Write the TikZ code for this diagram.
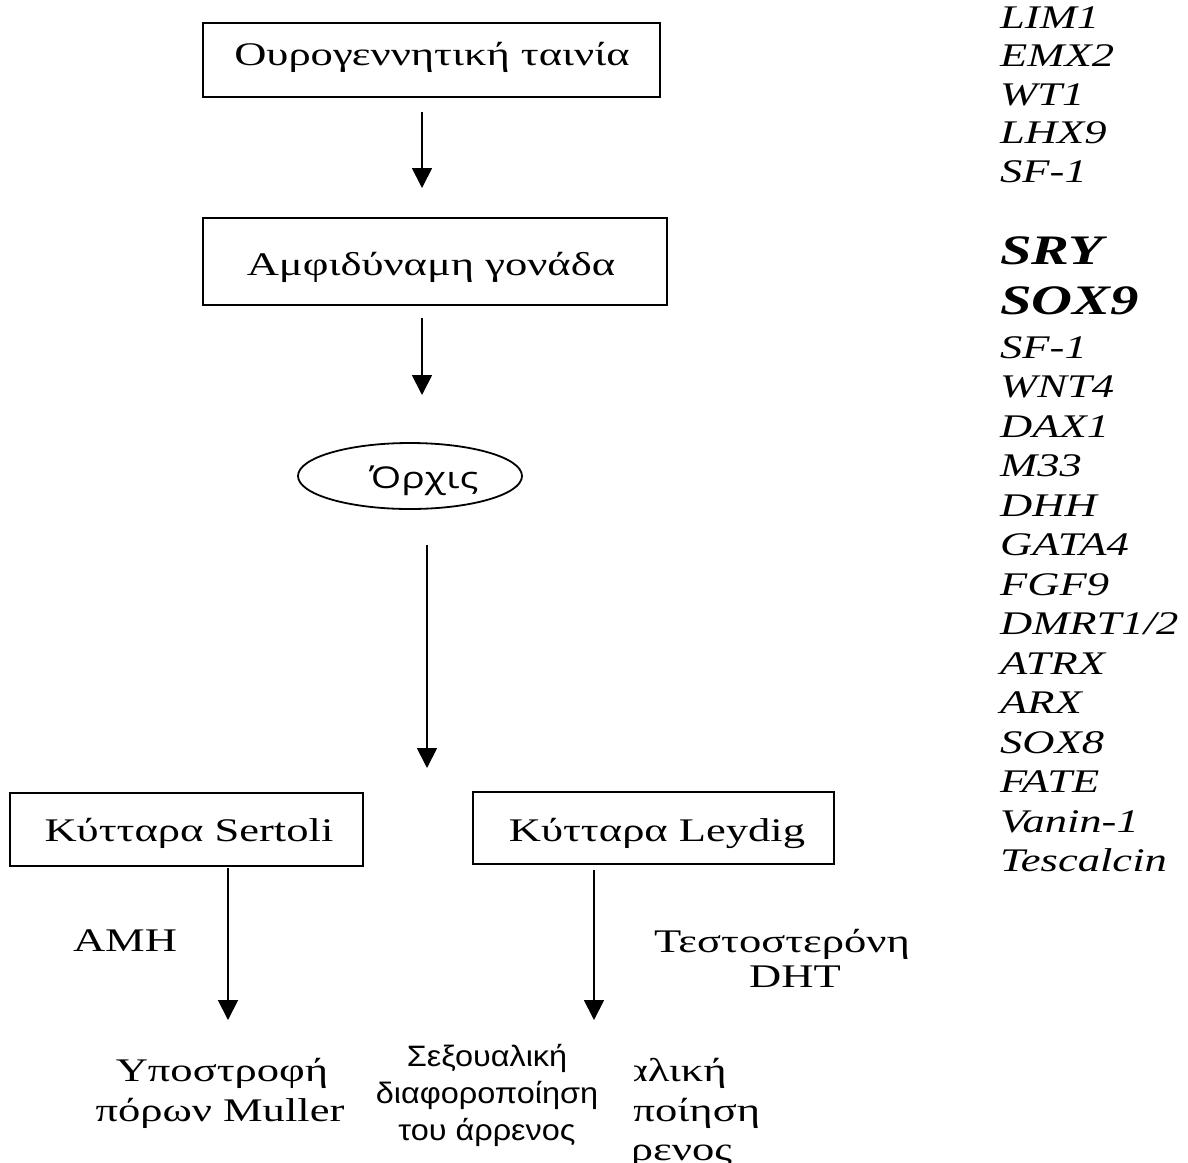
\documentclass[tikz,border=0pt]{standalone}
\usepackage{fontspec}
\setmainfont{Liberation Serif}[FakeStretch=1.35]
\newfontfamily\grsans{Liberation Sans}[FakeStretch=1.1]
\newfontfamily\orfont{Open Sans}[FakeStretch=1.3]
\usetikzlibrary{arrows.meta,shapes.geometric}
\begin{document}
\begin{tikzpicture}[x=1pt,y=-1pt,
  box/.style={draw,line width=1.8pt,inner sep=0},
  arr/.style={line width=1.8pt,-{Triangle[length=20pt,width=20pt]}},
  txt/.style={inner sep=0,anchor=base,font=\fontsize{33}{38}\selectfont},
  stxt/.style={inner sep=0,anchor=base,font=\grsans\fontsize{29.5}{34}\selectfont},
  gene/.style={inner sep=0,anchor=base west,font=\fontsize{33}{38}\selectfont\itshape},
  bgene/.style={inner sep=0,anchor=base west,font=\fontsize{42}{48}\selectfont\bfseries\itshape}]
\useasboundingbox[fill=white] (0,0) rectangle (1188,1162);

% boxes
\node[box,minimum width=457pt,minimum height=74pt] (b1) at (431.5,60) {};
\node[txt] (t1) at (432,65) {Ουρογεννητική ταινία};
\node[box,minimum width=464pt,minimum height=87pt] (b2) at (435,261.5) {};
\node[txt] (t2) at (431,275) {Αμφιδύναμη γονάδα};
\node[box,draw,ellipse,minimum width=224pt,minimum height=66pt] (e1) at (410,476) {};
\node[inner sep=0,anchor=base,font=\orfont\fontsize{30}{36}\selectfont] (t3) at (424,488) {Όρχις};
\node[box,minimum width=353pt,minimum height=73pt] (b4) at (186.5,829.5) {};
\node[txt] (t4) at (189,841) {Κύτταρα Sertoli};
\node[box,minimum width=361pt,minimum height=72pt] (b5) at (653.5,828) {};
\node[txt] (t5) at (657,841) {Κύτταρα Leydig};

% arrows
\coordinate (a1s) at (422,112); \coordinate (a1e) at (422,188);
\coordinate (a2s) at (422,318); \coordinate (a2e) at (422,395);
\coordinate (a3s) at (427,545); \coordinate (a3e) at (427,768);
\coordinate (a4s) at (228,868); \coordinate (a4e) at (228,1020);
\coordinate (a5s) at (594,870); \coordinate (a5e) at (594,1020);
\draw[arr] (a1s) -- (a1e);
\draw[arr] (a2s) -- (a2e);
\draw[arr] (a3s) -- (a3e);
\draw[arr] (a4s) -- (a4e);
\draw[arr] (a5s) -- (a5e);

% labels
\node[txt] (amh) at (125,951) {AMH};
\node[txt] (test) at (782,952) {Τεστοστερόνη};
\node[txt] (dht) at (795,987) {DHT};
\node[txt] (up1) at (222,1081) {Υποστροφή};
\node[txt] (up2) at (220,1121) {πόρων Muller};

% hidden serif text, partly covered by the sans version
\begin{scope}
\clip (634,1030) rectangle (820,1162);
\node[txt] (sd1) at (622,1081) {Σεξουαλική};
\node[txt] (sd2) at (622,1121) {διαφοροποίηση};
\node[txt] (sd3) at (622,1160) {του άρρενος};
\end{scope}
\node[stxt] (ss1) at (487,1066) {Σεξουαλική};
\node[stxt] (ss2) at (487,1103) {διαφοροποίηση};
\node[stxt] (ss3) at (487,1140) {του άρρενος};

% gene list
\node[gene] (g1) at (1000,28) {LIM1};
\node[gene] (g2) at (1000,66.5) {EMX2};
\node[gene] (g3) at (1000,105) {WT1};
\node[gene] (g4) at (1000,143.5) {LHX9};
\node[gene] (g5) at (1000,182) {SF-1};
\node[bgene] (g6) at (1000,264) {SRY};
\node[bgene] (g7) at (1000,314) {SOX9};
\node[gene] (g8) at (1000,358) {SF-1};
\node[gene] (g9) at (1000,397.5) {WNT4};
\node[gene] (g10) at (1000,437) {DAX1};
\node[gene] (g11) at (1000,476.5) {M33};
\node[gene] (g12) at (1000,516) {DHH};
\node[gene] (g13) at (1000,555.5) {GATA4};
\node[gene] (g14) at (1000,595) {FGF9};
\node[gene] (g15) at (1000,634.5) {DMRT1/2};
\node[gene] (g16) at (1000,674) {ATRX};
\node[gene] (g17) at (1000,713.5) {ARX};
\node[gene] (g18) at (1000,753) {SOX8};
\node[gene] (g19) at (1000,792.5) {FATE};
\node[gene] (g20) at (1000,832) {Vanin-1};
\node[gene] (g21) at (1000,871.5) {Tescalcin};
\end{tikzpicture}
\end{document}
